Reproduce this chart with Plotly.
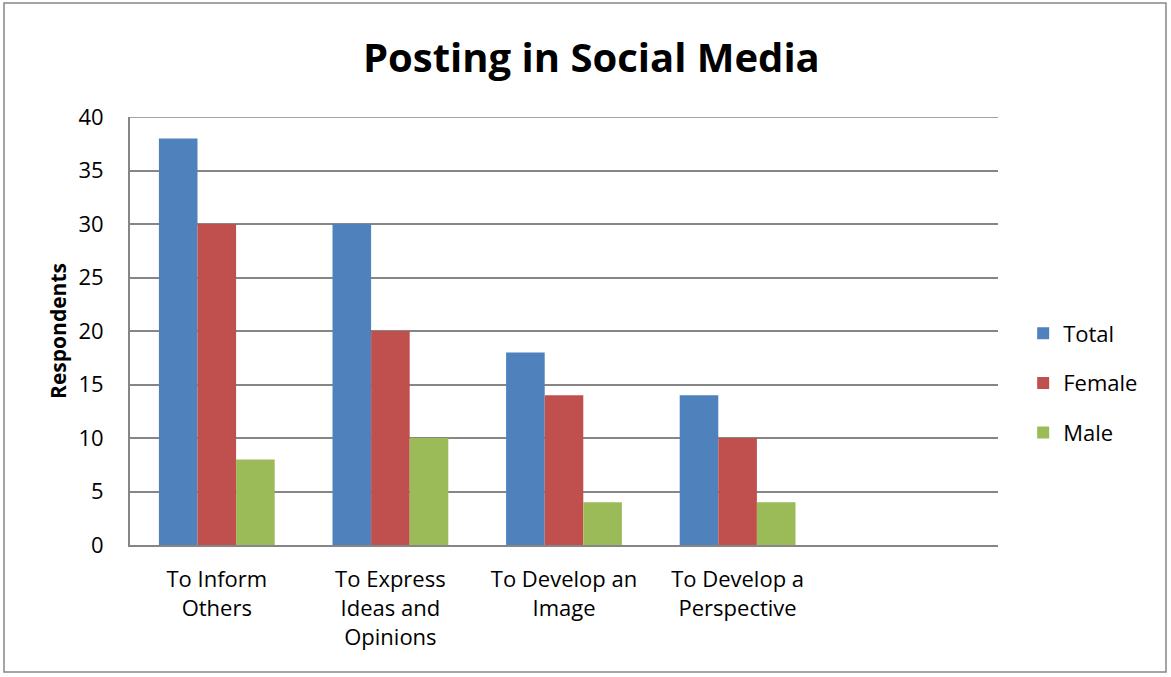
import plotly.graph_objects as go

categories = ["To Inform<br>Others", "To Express<br>Ideas and<br>Opinions", "To Develop an<br>Image", "To Develop a<br>Perspective"]
series_names = ["Total", "Female", "Male"]
total = [38, 30, 18, 14]
female = [30, 20, 14, 10]
male = [8, 10, 4, 4]
colors = ["#4F81BD", "#C0504D", "#9BBB59"]
y_ticks = [0, 5, 10, 15, 20, 25, 30, 35, 40]

FONT = "Open Sans, Liberation Sans, sans-serif"
x_pos = list(range(len(categories)))

fig = go.Figure()
for i, (name, vals) in enumerate(zip(series_names, [total, female, male])):
    fig.add_trace(go.Bar(
        x=x_pos, y=vals, name=name, marker_color=colors[i],
        marker_line_width=0, legendgroup=name,
    ))

fig.update_layout(
    width=1171, height=677,
    margin=dict(l=130, r=173, t=117, b=132),
    paper_bgcolor="white", plot_bgcolor="white",
    barmode="group", bargap=0.333, bargroupgap=0,
    font=dict(family=FONT, size=22, color="black"),
    title=dict(text="<b>Posting in Social Media</b>", x=0.505, xanchor="center",
               y=0.915, yanchor="middle", font=dict(size=40, family=FONT)),
    legend=dict(x=1.029, xanchor="left", y=0.3785, yanchor="middle",
                font=dict(size=22), tracegroupgap=18, itemsizing="constant"),
    showlegend=True,
)
fig.update_xaxes(
    range=[-0.5, 4.5], tickvals=x_pos, ticktext=categories,
    showline=True, linecolor="#868686", linewidth=2, showgrid=False,
    ticks="", tickfont=dict(size=22), ticklabelstandoff=14,
)
fig.update_yaxes(
    range=[0, max(y_ticks)], tickvals=y_ticks, showgrid=True, gridcolor="#868686", gridwidth=1.5,
    showline=True, linecolor="#868686", linewidth=2, ticks="",
    tickfont=dict(size=22), zeroline=False, ticklabelstandoff=20,
    title=dict(text="<b>Respondents</b>", font=dict(size=21), standoff=6),
)
# top gridline (hidden by plotly at the range edge)
fig.add_shape(type="line", xref="paper", yref="y", x0=0, x1=1,
              y0=max(y_ticks), y1=max(y_ticks), line=dict(color="#868686", width=1.5))
fig.add_shape(type="rect", xref="paper", yref="paper",
              x0=-126/868, x1=(1166-130)/868, y0=-(672-545)/428, y1=(545-3)/428,
              line=dict(color="#868686", width=1.5), fillcolor="rgba(0,0,0,0)", layer="below")

fig.write_html("out.html")
